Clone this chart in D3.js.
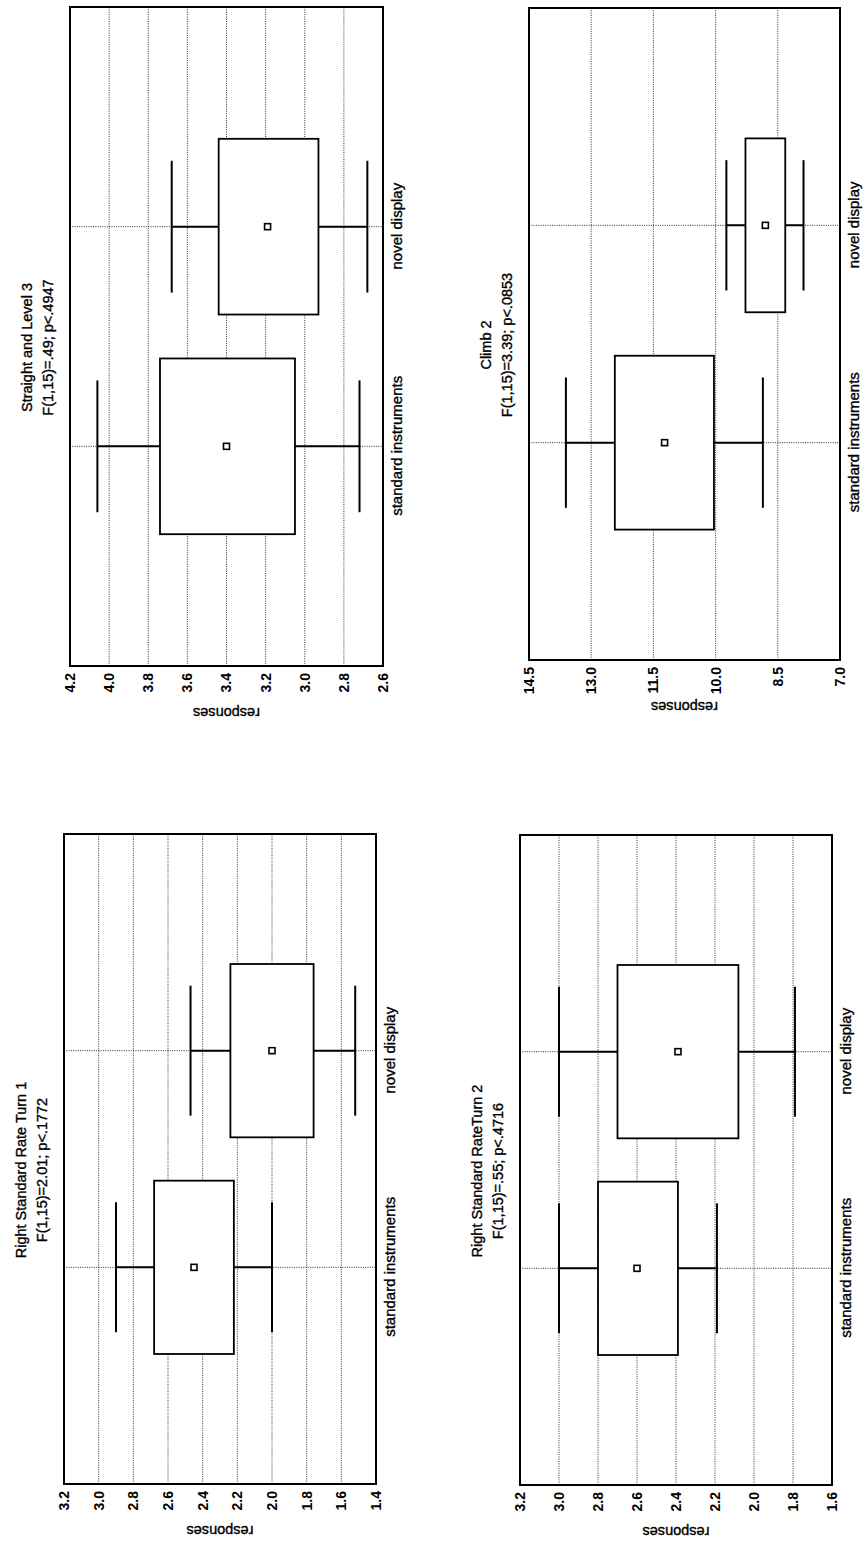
<!DOCTYPE html>
<html>
<head>
<meta charset="utf-8">
<script src="https://cdn.jsdelivr.net/npm/d3@7"></script>
<style>
  html, body { margin: 0; padding: 0; background: #fff; }
  svg { display: block; }
  text { font-family: "Liberation Sans", Arial, sans-serif; fill: #000; }
</style>
</head>
<body>
<div id="chart"></div>
<script>
// ---------------- data ----------------
const titles = ["Right Standard Rate Turn 1", "Straight and Level 3", "Right Standard RateTurn 2", "Climb 2"];
const statLines = ["F(1,15)=2.01; p<.1772", "F(1,15)=.49; p<.4947", "F(1,15)=.55; p<.4716", "F(1,15)=3.39; p<.0853"];
const categories = ["standard instruments", "novel display"];
const yLabel = "responses";
// per panel: [standard instruments, novel display]
const means       = [[2.45, 2.00], [3.40, 3.19], [2.60, 2.39], [11.23, 8.80]];
const boxLow      = [[2.22, 1.76], [3.05, 2.93], [2.39, 2.08], [10.04, 8.32]];
const boxHigh     = [[2.68, 2.24], [3.74, 3.44], [2.80, 2.70], [12.43, 9.28]];
const whiskerLow  = [[2.00, 1.52], [2.72, 2.68], [2.19, 1.79], [8.86, 7.88]];
const whiskerHigh = [[2.90, 2.47], [4.06, 3.68], [3.00, 3.00], [13.61, 9.74]];
const tickValues = [
  [3.2, 3.0, 2.8, 2.6, 2.4, 2.2, 2.0, 1.8, 1.6, 1.4],
  [4.2, 4.0, 3.8, 3.6, 3.4, 3.2, 3.0, 2.8, 2.6],
  [3.2, 3.0, 2.8, 2.6, 2.4, 2.2, 2.0, 1.8, 1.6],
  [14.5, 13.0, 11.5, 10.0, 8.5, 7.0]
];

// ---------------- layout (page is drawn rotated by -90deg) ----------------
const W = 866, H = 1543;
// plot frames in the un-rotated page frame (width H, height W)
const frames = [
  {X0: 59,  X1: 709,  Y0: 64,  Y1: 376},
  {X0: 877, X1: 1536, Y0: 70,  Y1: 383},
  {X0: 58,  X1: 708,  Y0: 520, Y1: 832},
  {X0: 883, X1: 1535, Y0: 529, Y1: 840}
];

const FONT = "'Liberation Sans', Arial, sans-serif";

const svg = d3.select("#chart").append("svg")
  .attr("width", W).attr("height", H);
svg.append("rect").attr("width", W).attr("height", H).attr("fill", "#fff");

const page = svg.append("g").attr("transform", `translate(0,${H}) rotate(-90)`);

const gridStyle = sel => sel.attr("stroke", "#1a1a1a").attr("stroke-width", 0.9)
  .attr("stroke-dasharray", "1,1.3").attr("fill", "none");

const heavyText = sel => sel.attr("font-family", FONT).attr("fill", "#000")
  .attr("stroke", "#000").attr("stroke-width", 0.35);

frames.forEach((f, i) => {
  const ticks = tickValues[i];
  const y = d3.scaleLinear().domain([ticks[0], ticks[ticks.length - 1]]).range([f.Y0, f.Y1]);
  const x = d3.scalePoint().domain(categories).range([f.X0, f.X1]).padding(1);
  const step = x.step();
  const boxW = step * 0.8, capW = step * 0.6;

  const g = page.append("g");

  // value gridlines
  g.append("g").selectAll("line").data(ticks.slice(1, -1)).join("line")
    .attr("x1", f.X0).attr("x2", f.X1)
    .attr("y1", d => y(d)).attr("y2", d => y(d))
    .call(gridStyle);

  // category gridlines
  g.append("g").selectAll("line").data(categories).join("line")
    .attr("x1", d => x(d)).attr("x2", d => x(d))
    .attr("y1", f.Y0).attr("y2", f.Y1)
    .call(gridStyle);

  const rows = categories.map((c, k) => ({
    c, mean: means[i][k], bl: boxLow[i][k], bh: boxHigh[i][k],
    wl: whiskerLow[i][k], wh: whiskerHigh[i][k]
  }));

  // whisker stems
  g.append("g").selectAll("line").data(rows).join("line")
    .attr("x1", d => x(d.c)).attr("x2", d => x(d.c))
    .attr("y1", d => y(d.wh)).attr("y2", d => y(d.wl))
    .attr("stroke", "#000").attr("stroke-width", 2);
  // whisker caps
  const caps = rows.flatMap(d => [{c: d.c, v: d.wh}, {c: d.c, v: d.wl}]);
  g.append("g").selectAll("line").data(caps).join("line")
    .attr("x1", d => x(d.c) - capW / 2).attr("x2", d => x(d.c) + capW / 2)
    .attr("y1", d => y(d.v)).attr("y2", d => y(d.v))
    .attr("stroke", "#000").attr("stroke-width", 2);
  // boxes
  g.append("g").selectAll("rect").data(rows).join("rect")
    .attr("x", d => x(d.c) - boxW / 2).attr("width", boxW)
    .attr("y", d => y(d.bh)).attr("height", d => y(d.bl) - y(d.bh))
    .attr("fill", "#fff").attr("stroke", "#000").attr("stroke-width", 1.8);
  // mean markers
  g.append("g").selectAll("rect").data(rows).join("rect")
    .attr("x", d => x(d.c) - 3).attr("y", d => y(d.mean) - 3)
    .attr("width", 6).attr("height", 6)
    .attr("fill", "#fff").attr("stroke", "#000").attr("stroke-width", 1.6);

  // frame
  g.append("rect").attr("x", f.X0).attr("y", f.Y0)
    .attr("width", f.X1 - f.X0).attr("height", f.Y1 - f.Y0)
    .attr("fill", "none").attr("stroke", "#000").attr("stroke-width", 2);

  // value axis labels
  const ya = g.append("g").attr("transform", `translate(${f.X0},0)`)
    .call(d3.axisLeft(y).tickValues(ticks).tickSize(0).tickPadding(7).tickFormat(d3.format(".1f")));
  ya.select(".domain").remove();
  ya.selectAll("text").attr("font-size", 14).attr("font-weight", "bold")
    .attr("font-family", FONT).attr("fill", "#000");

  // category axis labels
  const xa = g.append("g").attr("transform", `translate(0,${f.Y1})`)
    .call(d3.axisBottom(x).tickSize(0).tickPadding(8));
  xa.select(".domain").remove();
  xa.selectAll("text").attr("font-size", 15).call(heavyText);

  // y axis title
  const ym = (f.Y0 + f.Y1) / 2;
  g.append("text")
    .attr("transform", `translate(${f.X0 - 42},${ym}) rotate(-90)`)
    .attr("text-anchor", "middle").attr("font-size", 14.5)
    .call(heavyText)
    .text(yLabel);

  // panel titles
  const tx = (f.X0 + f.X1) / 2 - 11;
  g.append("text").attr("x", tx).attr("y", f.Y0 - 38)
    .attr("text-anchor", "middle").attr("font-size", 14.5)
    .call(heavyText)
    .text(titles[i]);
  g.append("text").attr("x", tx).attr("y", f.Y0 - 17)
    .attr("text-anchor", "middle").attr("font-size", 14.5)
    .call(heavyText)
    .text(statLines[i]);
});
</script>
</body>
</html>
